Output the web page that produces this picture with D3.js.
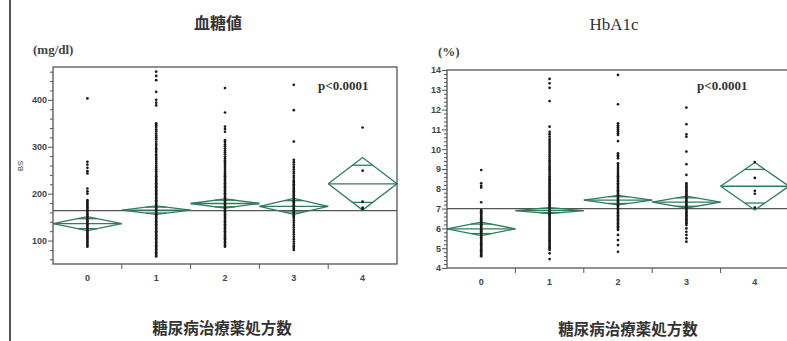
<!DOCTYPE html>
<html>
<head>
<meta charset="utf-8">
<script src="https://cdn.jsdelivr.net/npm/d3@7"></script>
<style>
  html, body { margin: 0; padding: 0; background: #fff; }
  svg { display: block; }
</style>
</head>
<body>
<svg id="chart" width="787" height="341"></svg>
<script>
// Groups: number of prescribed diabetes drugs
const categories = ["0", "1", "2", "3", "4"];

// Blood glucose (mg/dl), individual observations per group
const bsPoints0 = [403, 268, 262, 255, 248, 243, 211, 205, 200, 186, 183, 180, 177, 174, 171, 168, 165, 162, 159, 156, 153, 150, 147, 144, 141, 138, 135, 132, 129, 126, 123, 120, 117, 114, 111, 108, 105, 102, 99, 96, 93, 90, 87];
const bsPoints1 = [460, 451, 442, 417, 400, 394, 388, 350, 346, 342, 337, 333, 328, 324, 320, 316, 311, 306, 302, 297, 293, 289, 284, 280, 276, 272, 268, 264, 260, 256, 252, 248, 244, 240, 237, 234, 231, 228, 225, 222, 219, 216, 213, 210, 207, 204, 201, 198, 195, 192, 189, 186, 183, 180, 177, 174, 171, 168, 165, 162, 159, 156, 153, 150, 147, 144, 141, 138, 135, 132, 129, 126, 123, 120, 117, 114, 111, 108, 105, 102, 99, 96, 93, 90, 87, 84, 81, 78, 75, 72, 69, 66];
const bsPoints2 = [425, 373, 343, 338, 332, 314, 310, 305, 301, 296, 292, 288, 284, 279, 275, 271, 267, 263, 259, 255, 251, 247, 243, 240, 237, 234, 231, 228, 225, 222, 219, 216, 213, 210, 207, 204, 201, 198, 195, 192, 189, 186, 183, 180, 177, 174, 171, 168, 165, 162, 159, 156, 153, 150, 147, 144, 141, 138, 135, 132, 129, 126, 123, 120, 117, 114, 111, 108, 105, 102, 99, 96, 93, 90, 87];
const bsPoints3 = [432, 378, 311, 272, 267, 262, 257, 252, 247, 243, 238, 234, 229, 226, 223, 220, 217, 214, 211, 208, 205, 202, 199, 196, 193, 190, 187, 184, 181, 178, 175, 172, 169, 166, 163, 160, 157, 154, 151, 148, 143, 138, 133, 128, 123, 118, 113, 108, 103, 98, 93, 88, 84, 80];
const bsPoints4 = [341, 249, 183, 170, 167];
// Group means and 95% CI half-widths, grand mean
const bsMean = [136, 165, 179, 173, 221];
const bsHalfCI = [15, 9, 10, 17, 56];
const bsGrandMean = 164;
const bsMajorTicks = [100, 200, 300, 400];

// HbA1c (%), individual observations per group
const hbPoints0 = [8.95, 8.28, 8.15, 8.06, 7.32, 6.93, 6.87, 6.81, 6.75, 6.69, 6.63, 6.57, 6.51, 6.45, 6.39, 6.33, 6.27, 6.21, 6.15, 6.09, 6.03, 5.97, 5.91, 5.85, 5.79, 5.73, 5.67, 5.61, 5.55, 5.49, 5.43, 5.37, 5.31, 5.25, 5.19, 5.13, 5.07, 5.01, 4.95, 4.89, 4.83, 4.77, 4.71, 4.65, 4.59];
const hbPoints1 = [13.55, 13.33, 13.1, 12.43, 11.14, 10.88, 10.76, 10.64, 10.52, 10.41, 10.31, 10.21, 10.11, 10.01, 9.91, 9.82, 9.72, 9.63, 9.53, 9.44, 9.35, 9.26, 9.17, 9.08, 8.99, 8.9, 8.81, 8.72, 8.63, 8.55, 8.48, 8.41, 8.34, 8.27, 8.2, 8.13, 8.06, 7.99, 7.92, 7.85, 7.78, 7.71, 7.64, 7.57, 7.5, 7.43, 7.36, 7.29, 7.22, 7.15, 7.08, 7.01, 6.94, 6.87, 6.8, 6.73, 6.66, 6.59, 6.52, 6.45, 6.38, 6.31, 6.24, 6.17, 6.1, 6.03, 5.96, 5.89, 5.82, 5.75, 5.68, 5.61, 5.54, 5.47, 5.4, 5.33, 5.26, 5.19, 5.12, 5.05, 4.98, 4.91, 4.74, 4.45];
const hbPoints2 = [13.75, 12.27, 11.31, 11.21, 11.11, 11.01, 10.91, 10.81, 10.72, 10.41, 9.79, 9.7, 9.62, 9.54, 9.29, 9.2, 9.1, 9.0, 8.9, 8.8, 8.7, 8.63, 8.56, 8.49, 8.42, 8.35, 8.28, 8.21, 8.14, 8.07, 8.0, 7.93, 7.86, 7.79, 7.72, 7.65, 7.58, 7.51, 7.44, 7.37, 7.3, 7.23, 7.16, 7.09, 7.02, 6.95, 6.88, 6.81, 6.74, 6.67, 6.6, 6.53, 6.46, 6.39, 6.32, 6.25, 6.18, 6.11, 6.04, 5.97, 5.92, 5.67, 5.41, 5.16, 4.82];
const hbPoints3 = [12.1, 11.26, 10.75, 10.63, 9.88, 9.24, 8.7, 8.28, 8.21, 8.14, 8.07, 8.0, 7.93, 7.86, 7.79, 7.72, 7.65, 7.58, 7.51, 7.44, 7.37, 7.3, 7.23, 7.16, 7.09, 7.02, 6.95, 6.88, 6.81, 6.74, 6.67, 6.6, 6.53, 6.46, 6.39, 6.32, 6.26, 6.17, 6.0, 5.83, 5.67, 5.5, 5.33];
const hbPoints4 = [9.35, 8.55, 7.9, 7.75, 7.05];
const hbMean = [5.98, 6.9, 7.43, 7.33, 8.13];
const hbHalfCI = [0.34, 0.15, 0.24, 0.3, 1.2];
const hbGrandMean = 7.0;
const hbMajorTicks = [4, 5, 6, 7, 8, 9, 10, 11, 12, 13, 14];

const pText = "p<0.0001";
const xTitle = "糖尿病治療薬処方数";

const svg = d3.select("#chart");
const GREEN = "#2f7d5c";
const FRAME = "#555";
const CJK = "'Noto Sans CJK JP', 'Noto Sans CJK SC', sans-serif";
const SERIF = "'Liberation Serif', 'DejaVu Serif', serif";
const SANS = "'Liberation Sans', Arial, sans-serif";

// scanned page edge on the left
svg.append("line")
  .attr("x1", 10).attr("x2", 10).attr("y1", 0).attr("y2", 341)
  .attr("stroke", "#555").attr("stroke-width", 2);

function drawPanel(cfg) {
  const g = svg.append("g");
  const x = d3.scaleBand().domain(categories).range([cfg.left, cfg.right]).padding(0);
  const y = d3.scaleLinear().domain(cfg.domain).range([cfg.bottom, cfg.top]);

  // title and unit
  g.append("text").attr("x", cfg.titleX).attr("y", cfg.titleY)
    .attr("text-anchor", "middle").attr("font-family", cfg.titleFont)
    .attr("font-size", cfg.titleSize).attr("font-weight", cfg.titleWeight)
    .attr("fill", "#333").text(cfg.title);
  g.append("text").attr("x", cfg.unitX).attr("y", cfg.unitY)
    .attr("font-family", SERIF).attr("font-size", 13).attr("font-weight", "bold")
    .attr("fill", "#444").text(cfg.unit);

  // minor y ticks
  const minor = d3.range(cfg.minorStart, cfg.minorEnd + cfg.minorStep / 2, cfg.minorStep)
    .map(v => +v.toFixed(4))
    .filter(v => !cfg.major.some(m => Math.abs(m - v) < 1e-6));
  g.append("g").attr("transform", `translate(${cfg.left},0)`)
    .call(d3.axisLeft(y).tickValues(minor).tickSize(3).tickFormat(""))
    .call(a => a.select(".domain").remove())
    .call(a => a.selectAll("line").attr("stroke", "#555"));

  // major y ticks with labels
  g.append("g").attr("transform", `translate(${cfg.left},0)`)
    .call(d3.axisLeft(y).tickValues(cfg.major).tickSize(5).tickPadding(1).tickFormat(d3.format("d")))
    .call(a => a.select(".domain").remove())
    .call(a => a.selectAll("line").attr("stroke", "#555"))
    .call(a => a.selectAll("text").attr("font-family", SANS).attr("font-size", 9)
      .attr("font-weight", "bold").attr("fill", "#444"));

  // x labels at group centres
  g.append("g").attr("transform", `translate(0,${cfg.bottom})`)
    .call(d3.axisBottom(x).tickSize(0).tickPadding(11))
    .call(a => a.select(".domain").remove())
    .call(a => a.selectAll("text").attr("font-family", SANS).attr("font-size", 9)
      .attr("font-weight", "bold").attr("fill", "#444"));

  // x ticks on the group boundaries
  const bounds = categories.slice(1).map(c => x(c));
  g.selectAll(".bt").data(bounds).join("line")
    .attr("x1", d => d).attr("x2", d => d)
    .attr("y1", cfg.bottom).attr("y2", cfg.bottom + 5)
    .attr("stroke", "#555").attr("stroke-width", 1);

  // x title
  g.append("text").attr("x", cfg.xTitleX).attr("y", cfg.xTitleY)
    .attr("text-anchor", "middle").attr("font-family", CJK)
    .attr("font-size", 15.5).attr("font-weight", "bold").attr("fill", "#333")
    .text(xTitle);

  // grand mean line
  g.append("line")
    .attr("x1", cfg.left).attr("x2", cfg.right)
    .attr("y1", y(cfg.grand)).attr("y2", y(cfg.grand))
    .attr("stroke", "#555").attr("stroke-width", 1.2);

  // means diamonds
  const groups = categories.map((c, i) => ({ c, m: cfg.mean[i], h: cfg.half[i] }));
  const bw = x.bandwidth();
  const dg = g.append("g").attr("fill", "none").attr("stroke", GREEN).attr("stroke-width", 1.3);
  groups.forEach(d => {
    const x0 = x(d.c), xc = x0 + bw / 2, x1 = x0 + bw;
    const ym = y(d.m), yt = y(d.m + d.h), yb = y(d.m - d.h);
    dg.append("path").attr("d", d3.line()([[x0, ym], [xc, yt], [x1, ym], [xc, yb], [x0, ym]]));
    dg.append("line").attr("x1", x0).attr("x2", x1).attr("y1", ym).attr("y2", ym);
    // overlap marks
    const k = Math.SQRT1_2;
    const hw = (bw / 2) * (1 - k);
    [d.m + d.h * k, d.m - d.h * k].forEach(v => {
      dg.append("line").attr("x1", xc - hw).attr("x2", xc + hw)
        .attr("y1", y(v)).attr("y2", y(v));
    });
  });

  // observations
  const pts = [];
  cfg.points.forEach((arr, i) => arr.forEach(v => pts.push({ c: categories[i], v })));
  g.append("g").selectAll("circle").data(pts).join("circle")
    .attr("cx", d => x(d.c) + bw / 2).attr("cy", d => y(d.v))
    .attr("r", 1.35).attr("fill", "#1a1a1a");

  // plot frame
  g.append("rect").attr("x", cfg.left).attr("y", cfg.top)
    .attr("width", cfg.right - cfg.left).attr("height", cfg.bottom - cfg.top)
    .attr("fill", "none").attr("stroke", FRAME).attr("stroke-width", 1.3);

  // p-value
  g.append("text").attr("x", cfg.pX).attr("y", cfg.pY)
    .attr("font-family", SERIF).attr("font-size", 13).attr("font-weight", "bold")
    .attr("fill", "#333").text(pText);

  if (cfg.yLabel) {
    g.append("text").attr("transform", `translate(${cfg.yLabelX},${cfg.yLabelY}) rotate(-90)`)
      .attr("text-anchor", "middle").attr("font-family", SANS).attr("font-size", 8)
      .attr("fill", "#444").text(cfg.yLabel);
  }
}

drawPanel({
  left: 53, right: 397, top: 67, bottom: 264,
  domain: [50, 470], major: bsMajorTicks,
  minorStart: 60, minorEnd: 460, minorStep: 20,
  mean: bsMean, half: bsHalfCI, grand: bsGrandMean,
  points: [bsPoints0, bsPoints1, bsPoints2, bsPoints3, bsPoints4],
  title: "血糖値", titleX: 218, titleY: 29, titleFont: CJK, titleSize: 16, titleWeight: "bold",
  unit: "(mg/dl)", unitX: 33, unitY: 54,
  pX: 318, pY: 90,
  xTitleX: 222, xTitleY: 334,
  yLabel: "BS", yLabelX: 23, yLabelY: 166
});

drawPanel({
  left: 447, right: 789, top: 70, bottom: 268,
  domain: [4, 14], major: hbMajorTicks,
  minorStart: 4, minorEnd: 14, minorStep: 0.2,
  mean: hbMean, half: hbHalfCI, grand: hbGrandMean,
  points: [hbPoints0, hbPoints1, hbPoints2, hbPoints3, hbPoints4],
  title: "HbA1c", titleX: 614, titleY: 30, titleFont: SERIF, titleSize: 17, titleWeight: "normal",
  unit: "(%)", unitX: 438, unitY: 56,
  pX: 697, pY: 90,
  xTitleX: 628, xTitleY: 335
});
</script>
</body>
</html>
